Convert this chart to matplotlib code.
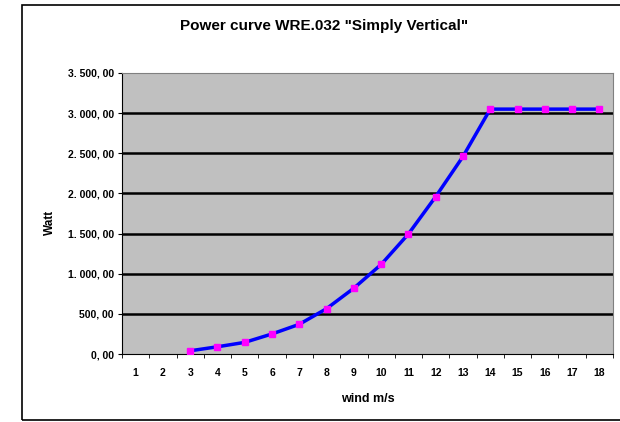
import matplotlib.pyplot as plt
from matplotlib.patches import Rectangle
import numpy as np

categories = list(range(1, 19))
wind = [3, 4, 5, 6, 7, 8, 9, 10, 11, 12, 13, 14, 15, 16, 17, 18]
watt = [40, 90, 145, 250, 370, 565, 820, 1115, 1495, 1960, 2460, 3050, 3050, 3050, 3050, 3050]
yticks = [0, 500, 1000, 1500, 2000, 2500, 3000, 3500]


def fmt(v):
    # 3500 -> "3. 500, 00" (excel style, european separators)
    whole = int(v)
    if whole >= 1000:
        head = "{}. {:03d}".format(whole // 1000, whole % 1000)
    else:
        head = str(whole)
    return head + ", 00"


plt.rcParams['font.family'] = ['Liberation Sans', 'DejaVu Sans']

fig = plt.figure(figsize=(6.2, 4.22), dpi=100)
fig.patches.append(Rectangle((22 / 620, 0.005), 1.0, (1 - 5 / 422) - 0.005, transform=fig.transFigure,
                             fill=False, edgecolor="black", linewidth=1.2))
ax = fig.add_axes([122 / 620, 1 - 354 / 422, (613 - 122) / 620, (354 - 73) / 422])
ax.set_facecolor("#c0c0c0")
for s in ax.spines.values():
    s.set_color("#808080")
ax.spines["left"].set_color("black")
ax.spines["bottom"].set_color("black")

for y in yticks[1:-1]:
    ax.axhline(y, color="black", linewidth=1.8, zorder=1)

ax.plot(wind, watt, color="#0000ff", linewidth=2.5, zorder=3)
ax.plot(wind, watt, linestyle="none", marker="s", markersize=4.5, color="#ff00ff", zorder=4)

ax.set_xlim(0.5, 18.5)
ax.set_ylim(0, 3500)
ax.set_xticks(categories)
ax.set_xticklabels([str(c) for c in categories], fontsize=7.5, fontweight="bold")
ax.set_xticks(np.arange(0.5, 18.6, 1), minor=True)
ax.tick_params(axis="x", which="major", length=0, pad=10)
ax.tick_params(axis="x", which="minor", length=3, direction="out")
ax.set_yticks(yticks)
ax.set_yticklabels([fmt(v) for v in yticks], fontsize=7.5, fontweight="bold")
ax.tick_params(axis="y", length=3, direction="out", pad=3)

fig.text(368 / 620, 1 - 399 / 422, "wind m/s", ha="center", va="center", fontsize=9, fontweight="bold")
fig.text(50 / 620, 1 - 222 / 422, "Watt", ha="center", va="center", rotation=90, fontsize=8.5,
         fontweight="bold")
fig.text(324 / 620, 1 - 26 / 422, 'Power curve WRE.032 "Simply Vertical"', ha="center", va="center",
         fontsize=11, fontweight="bold")

fig.savefig("out.png")
